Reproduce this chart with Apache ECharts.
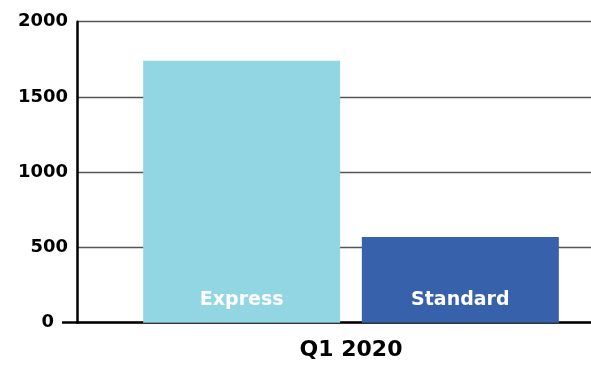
<!DOCTYPE html>
<html>
<head>
<meta charset="utf-8">
<script src="https://cdn.jsdelivr.net/npm/echarts@6/dist/echarts.min.js"></script>
<style>
  html, body { margin: 0; padding: 0; background: #fff; }
  #chart { width: 591px; height: 366px; }
</style>
</head>
<body>
<div id="chart"></div>
<script>
// data
var categories = ['Q1 2020'];
var seriesNames = ['Express', 'Standard'];
var expressValues = [1740];
var standardValues = [570];
var yTicks = [0, 500, 1000, 1500, 2000];

var FONT = '"DejaVu Sans", sans-serif';

var chart = echarts.init(document.getElementById('chart'), null, { renderer: 'canvas' });

function barLabel(name) {
  return {
    show: true,
    position: 'insideBottom',
    distance: 13,
    formatter: name,
    color: '#fff',
    fontFamily: FONT,
    fontWeight: 'bold',
    fontSize: 19
  };
}

var yLabelStyle = {
  color: '#000',
  fontFamily: FONT,
  fontWeight: 'bold',
  fontSize: 18
};

var option = {
  animation: false,
  grid: {
    left: 77, width: 548, top: 21.7, bottom: 43.3,
    containLabel: false, outerBoundsMode: 'none'
  },
  xAxis: {
    type: 'category',
    data: categories,
    axisLine: { show: true, lineStyle: { color: '#000', width: 2.5 } },
    axisTick: { show: false },
    axisLabel: {
      color: '#000',
      fontFamily: FONT,
      fontWeight: 'bold',
      fontSize: 22,
      margin: 17
    }
  },
  yAxis: [
    {
      type: 'value',
      min: yTicks[0],
      max: yTicks[yTicks.length - 1],
      interval: 500,
      axisLine: { show: true, lineStyle: { color: '#000', width: 2.5 } },
      axisTick: { show: false },
      splitLine: { show: true, lineStyle: { color: '#555', width: 1.3 } },
      axisLabel: Object.assign({
        margin: 9,
        formatter: function (v) { return v === 0 ? '' : String(v); }
      }, yLabelStyle)
    },
    {
      // the stub of the x axis left of the y axis, and the 0 label beside it
      type: 'value',
      position: 'left',
      min: yTicks[0],
      max: yTicks[yTicks.length - 1],
      axisLine: { show: false },
      splitLine: { show: false },
      axisTick: {
        show: true,
        customValues: [0],
        length: 15,
        lineStyle: { color: '#000', width: 2.5 }
      },
      axisLabel: Object.assign({
        customValues: [0],
        margin: 23
      }, yLabelStyle)
    }
  ],
  series: [
    {
      name: seriesNames[0],
      type: 'bar',
      data: expressValues,
      barWidth: 197,
      barGap: '11%',
      itemStyle: { color: '#92D6E3' },
      label: barLabel(seriesNames[0])
    },
    {
      name: seriesNames[1],
      type: 'bar',
      data: standardValues,
      barWidth: 197,
      itemStyle: { color: '#3761AB' },
      label: barLabel(seriesNames[1])
    }
  ]
};

chart.setOption(option);
</script>
</body>
</html>
